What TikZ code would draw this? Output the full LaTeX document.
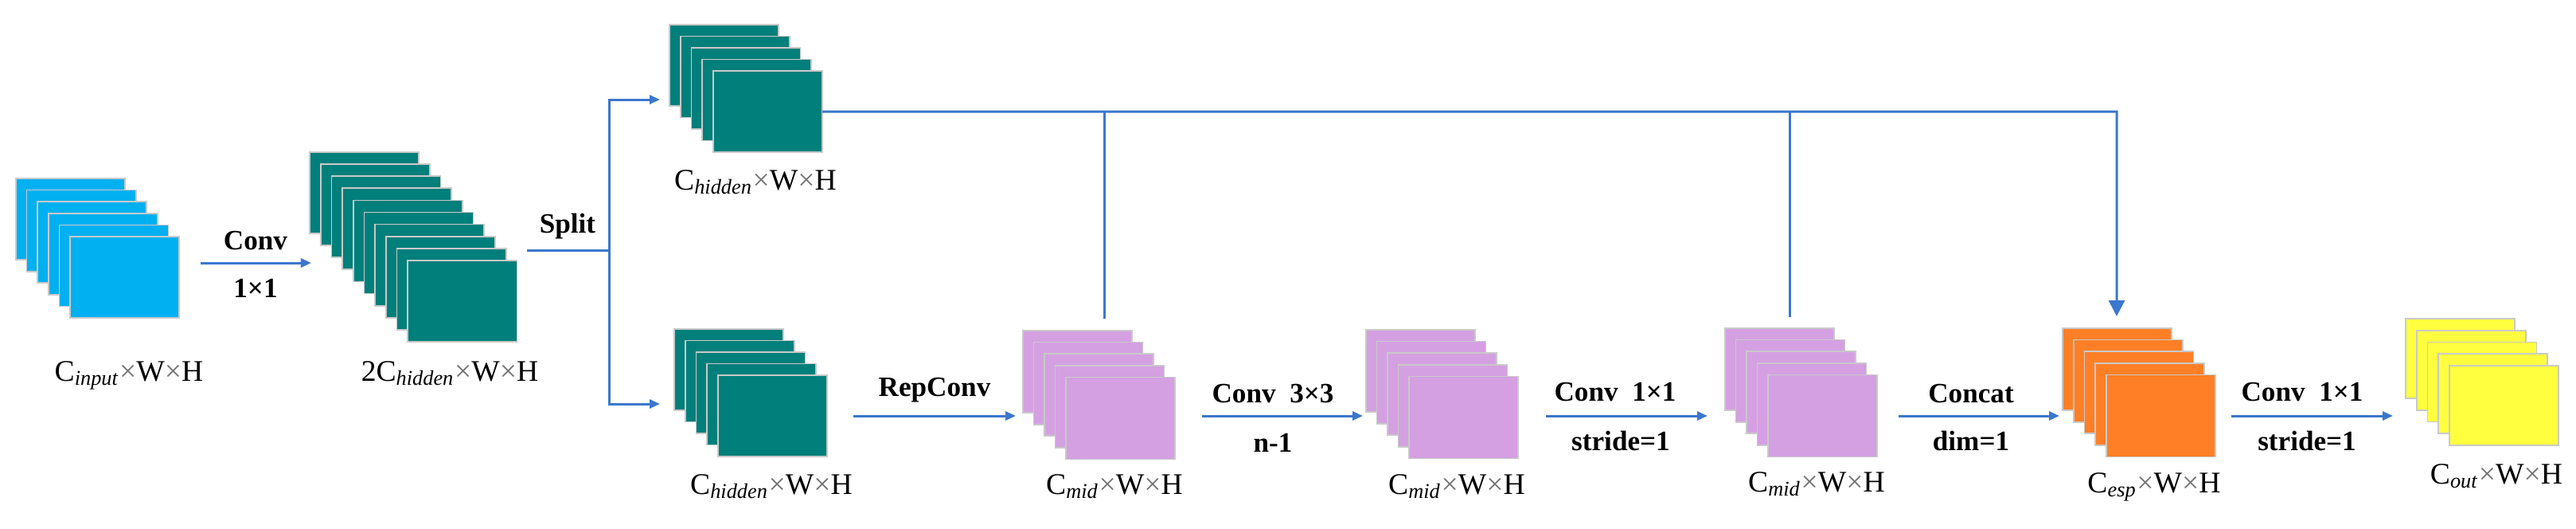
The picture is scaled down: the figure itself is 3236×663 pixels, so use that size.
\documentclass[tikz,border=0pt]{standalone}
\usepackage{fontspec}
\setmainfont{Liberation Serif}
\usetikzlibrary{arrows.meta,calc}
\definecolor{cblue}{HTML}{00B0F0}
\definecolor{cteal}{HTML}{007F7B}
\definecolor{clav}{HTML}{D4A0E2}
\definecolor{corange}{HTML}{FF7F27}
\definecolor{cyellow}{HTML}{FFFF40}
\definecolor{cline}{HTML}{3B77CC}
\definecolor{cedge}{HTML}{C9C9C9}
\newcommand\tms{{\color{black!55}×}}
\newcommand\fmstack[8]{%
  \foreach \k in {1,...,#5}{%
    \node[sheet, fill=#2, minimum height=#8] (#1-\k) at ({#3+(\k-1)*#6},{#4+(\k-1)*#7}) {};
  }%
}
\begin{document}
\begin{tikzpicture}[x=0.01cm,y=-0.01cm,
  sheet/.style={draw=cedge, line width=0.5pt, inner sep=0pt, outer sep=0pt,
    minimum width=1.37cm, anchor=north west},
  conn/.style={draw=cline, line width=0.85pt},
  arr/.style={conn, -{Triangle[length=0.13cm,width=0.11cm]}},
  bigarr/.style={conn, -{Triangle[length=0.2cm,width=0.2cm]}},
  oplab/.style={font=\bfseries\fontsize{10}{12}\selectfont, inner sep=0pt, anchor=base},
  dimlab/.style={font=\fontsize{10.7}{12}\selectfont, inner sep=0pt, anchor=base},
]
\useasboundingbox (0,0) rectangle (3236,663);

% feature-map stacks
\fmstack{in}{cblue}{20}{224}{6}{13.6}{14.6}{1.02cm}
\fmstack{ch}{cteal}{389}{191}{10}{13.7}{15.1}{1.02cm}
\fmstack{top}{cteal}{841}{31}{5}{13.75}{14.5}{1.02cm}
\fmstack{bot}{cteal}{847}{413}{5}{13.75}{14.5}{1.02cm}
\fmstack{ma}{clav}{1285}{415}{5}{13.5}{14.6}{1.03cm}
\fmstack{mb}{clav}{1716}{414}{5}{13.5}{14.6}{1.03cm}
\fmstack{mc}{clav}{2167}{412}{5}{13.5}{14.6}{1.03cm}
\fmstack{esp}{corange}{2591}{412}{5}{13.7}{14.6}{1.03cm}
\fmstack{out}{cyellow}{3022}{400}{5}{13.7}{14.7}{1.0cm}

% size labels
\node[dimlab] (l-in)  at (162,478)  {C\textsubscript{\textit{input}}\tms W\tms H};
\node[dimlab] (l-ch)  at (565,478)  {2C\textsubscript{\textit{hidden}}\tms W\tms H};
\node[dimlab] (l-top) at (949,238)  {C\textsubscript{\textit{hidden}}\tms W\tms H};
\node[dimlab] (l-bot) at (969,620)  {C\textsubscript{\textit{hidden}}\tms W\tms H};
\node[dimlab] (l-ma)  at (1400,620) {C\textsubscript{\textit{mid}}\tms W\tms H};
\node[dimlab] (l-mb)  at (1830,620) {C\textsubscript{\textit{mid}}\tms W\tms H};
\node[dimlab] (l-mc)  at (2282,617) {C\textsubscript{\textit{mid}}\tms W\tms H};
\node[dimlab] (l-esp) at (2706,618) {C\textsubscript{\textit{esp}}\tms W\tms H};
\node[dimlab] (l-out) at (3136,607) {C\textsubscript{\textit{out}}\tms W\tms H};

% operation labels
\node[oplab] (o-conv)  at (321,313)  {Conv};
\node[oplab] (o-11)    at (321,373)  {1×1};
\node[oplab] (o-split) at (713,292)  {Split};
\node[oplab] (o-rep)   at (1174,497) {RepConv};
\node[oplab] (o-c33)   at (1599,505) {Conv\hspace{0.5em}3×3};
\node[oplab] (o-n1)    at (1599,567) {n-1};
\node[oplab] (o-c11a)  at (2029,503) {Conv\hspace{0.5em}1×1};
\node[oplab] (o-s1a)   at (2036,565) {stride=1};
\node[oplab] (o-cat)   at (2476,505) {Concat};
\node[oplab] (o-dim)   at (2476,565) {dim=1};
\node[oplab] (o-c11b)  at (2892,503) {Conv\hspace{0.5em}1×1};
\node[oplab] (o-s1b)   at (2898,565) {stride=1};

% connectors
\coordinate (a1) at (252,330);
\draw[arr] (a1) -- ($(a1 -| ch-1.west)+(2,0)$);

\coordinate (sp)  at (765,314);
\coordinate (spT) at (765,125);
\coordinate (spB) at (765,507);
\draw[conn] ($(ch-10.east |- sp)+(13,0)$) -- (sp);
\draw[arr] (sp) -- (spT) -- ($(spT -| top-1.west)+(-12,0)$);
\draw[arr] (sp) -- (spB) -- ($(spB -| bot-1.west)+(-18,0)$);

\coordinate (dn) at (2659,140);
\draw[bigarr] (top-5.east) -- (dn) -- ($(dn |- esp-1.north)+(0,-15)$);
\coordinate (j1) at (1387,140);
\draw[conn] (j1) -- ($(j1 |- ma-1.north)+(0,-15)$);
\coordinate (j3) at (2248,140);
\draw[conn] (j3) -- ($(j3 |- mc-1.north)+(0,-14)$);

\coordinate (r1) at (1072,522);
\draw[arr] (r1) -- ($(r1 -| ma-1.west)+(-9,0)$);
\coordinate (r2) at (1510,522);
\draw[arr] (r2) -- ($(r2 -| mb-1.west)+(-4,0)$);
\coordinate (r3) at (1942,522);
\draw[arr] (r3) -- ($(r3 -| mc-1.west)+(-22,0)$);
\coordinate (r4) at (2385,522);
\draw[arr] (r4) -- ($(r4 -| esp-1.west)+(-4,0)$);
\coordinate (r5) at (2803,522);
\draw[arr] (r5) -- ($(r5 -| out-1.west)+(-16,0)$);
\end{tikzpicture}
\end{document}
